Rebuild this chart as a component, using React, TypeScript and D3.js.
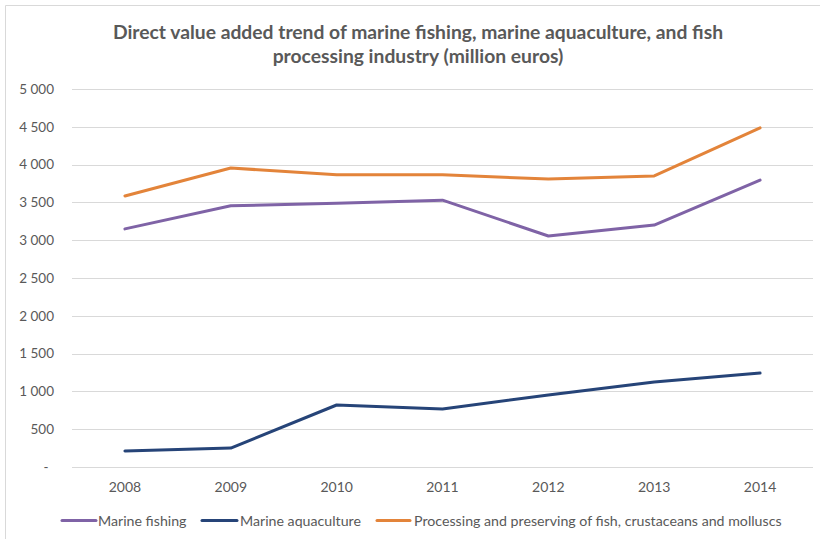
import React from "react";
import * as d3 from "d3";

const years = ["2008", "2009", "2010", "2011", "2012", "2013", "2014"];
const marineFishing = [3150, 3455, 3490, 3530, 3055, 3200, 3795];
const marineAquaculture = [212, 250, 820, 768, 952, 1124, 1243];
const processing = [3585, 3955, 3865, 3865, 3810, 3850, 4485];
const yTicks = [0, 500, 1000, 1500, 2000, 2500, 3000, 3500, 4000, 4500, 5000];
const seriesNames = [
  "Marine fishing",
  "Marine aquaculture",
  "Processing and preserving of fish, crustaceans and molluscs",
];
const titleLines = [
  "Direct value added trend of marine fishing, marine aquaculture, and fish",
  "processing industry (million euros)",
];

const colors = ["#7F63A6", "#264478", "#E3843A"];
const FONT = "Lato, 'Open Sans', sans-serif";

export default function App() {
  const W = 820, H = 539;
  const left = 72, right = 813, top = 89, bottom = 467;
  const x = d3.scaleBand<string>().domain(years).range([left, right]);
  const y = d3.scaleLinear().domain([0, 5000]).range([bottom, top]);
  const cx = (d: string) => (x(d) ?? 0) + x.bandwidth() / 2;
  const line = d3
    .line<number>()
    .x((_, i) => cx(years[i]))
    .y((v) => y(v));
  const data = [marineFishing, marineAquaculture, processing];
  const fmt = (v: number) =>
    v === 0 ? "-" : d3.format(",")(v).replace(/,/g, "\u00a0");

  const legendItems = [
    { x1: 62, x2: 96, tx: 98, w: 89 },
    { x1: 202, x2: 237, tx: 240, w: 123 },
    { x1: 377, x2: 410, tx: 414, w: 369 },
  ];

  return (
    <svg
      width={W}
      height={H}
      style={{ position: "absolute", left: 0, top: 0, background: "#fff" }}
    >
      <rect x={0} y={0} width={W} height={H} fill="#fff" />
      <path d={`M5.5,${H} V5.5 H${W}`} fill="none" stroke="#d9d9d9" strokeWidth={1} />
      {titleLines.map((t, i) => (
        <text
          key={i}
          x={418}
          y={39 + i * 24}
          textAnchor="middle"
          fontFamily={FONT}
          fontWeight="bold"
          fontSize={19.3}
          fill="#595959"
        >
          {t}
        </text>
      ))}
      {yTicks.map((t) => (
        <g key={t}>
          <line
            x1={left}
            x2={right}
            y1={Math.round(y(t)) + 0.5}
            y2={Math.round(y(t)) + 0.5}
            stroke="#d9d9d9"
            strokeWidth={1}
          />
          <text
            x={t === 0 ? 46 : 54}
            y={y(t)}
            dy="0.35em"
            textAnchor={t === 0 ? "middle" : "end"}
            fontFamily={FONT}
            fontSize={13.5}
            fill="#595959"
          >
            {fmt(t)}
          </text>
        </g>
      ))}
      {years.map((yr) => (
        <text
          key={yr}
          x={cx(yr)}
          y={492}
          textAnchor="middle"
          fontFamily={FONT}
          fontSize={14}
          fill="#595959"
        >
          {yr}
        </text>
      ))}
      {data.map((s, i) => (
        <path
          key={i}
          d={line(s) ?? ""}
          fill="none"
          stroke={colors[i]}
          strokeWidth={3}
          strokeLinejoin="round"
          strokeLinecap="round"
        />
      ))}
      {legendItems.map((l, i) => (
        <g key={i}>
          <line
            x1={l.x1}
            x2={l.x2}
            y1={520.5}
            y2={520.5}
            stroke={colors[i]}
            strokeWidth={3}
            strokeLinecap="round"
          />
          <text
            x={l.tx}
            y={521}
            dy="0.35em"
            fontFamily={FONT}
            fontSize={14.2}
            fill="#595959"
          >
            {seriesNames[i]}
          </text>
        </g>
      ))}
    </svg>
  );
}
